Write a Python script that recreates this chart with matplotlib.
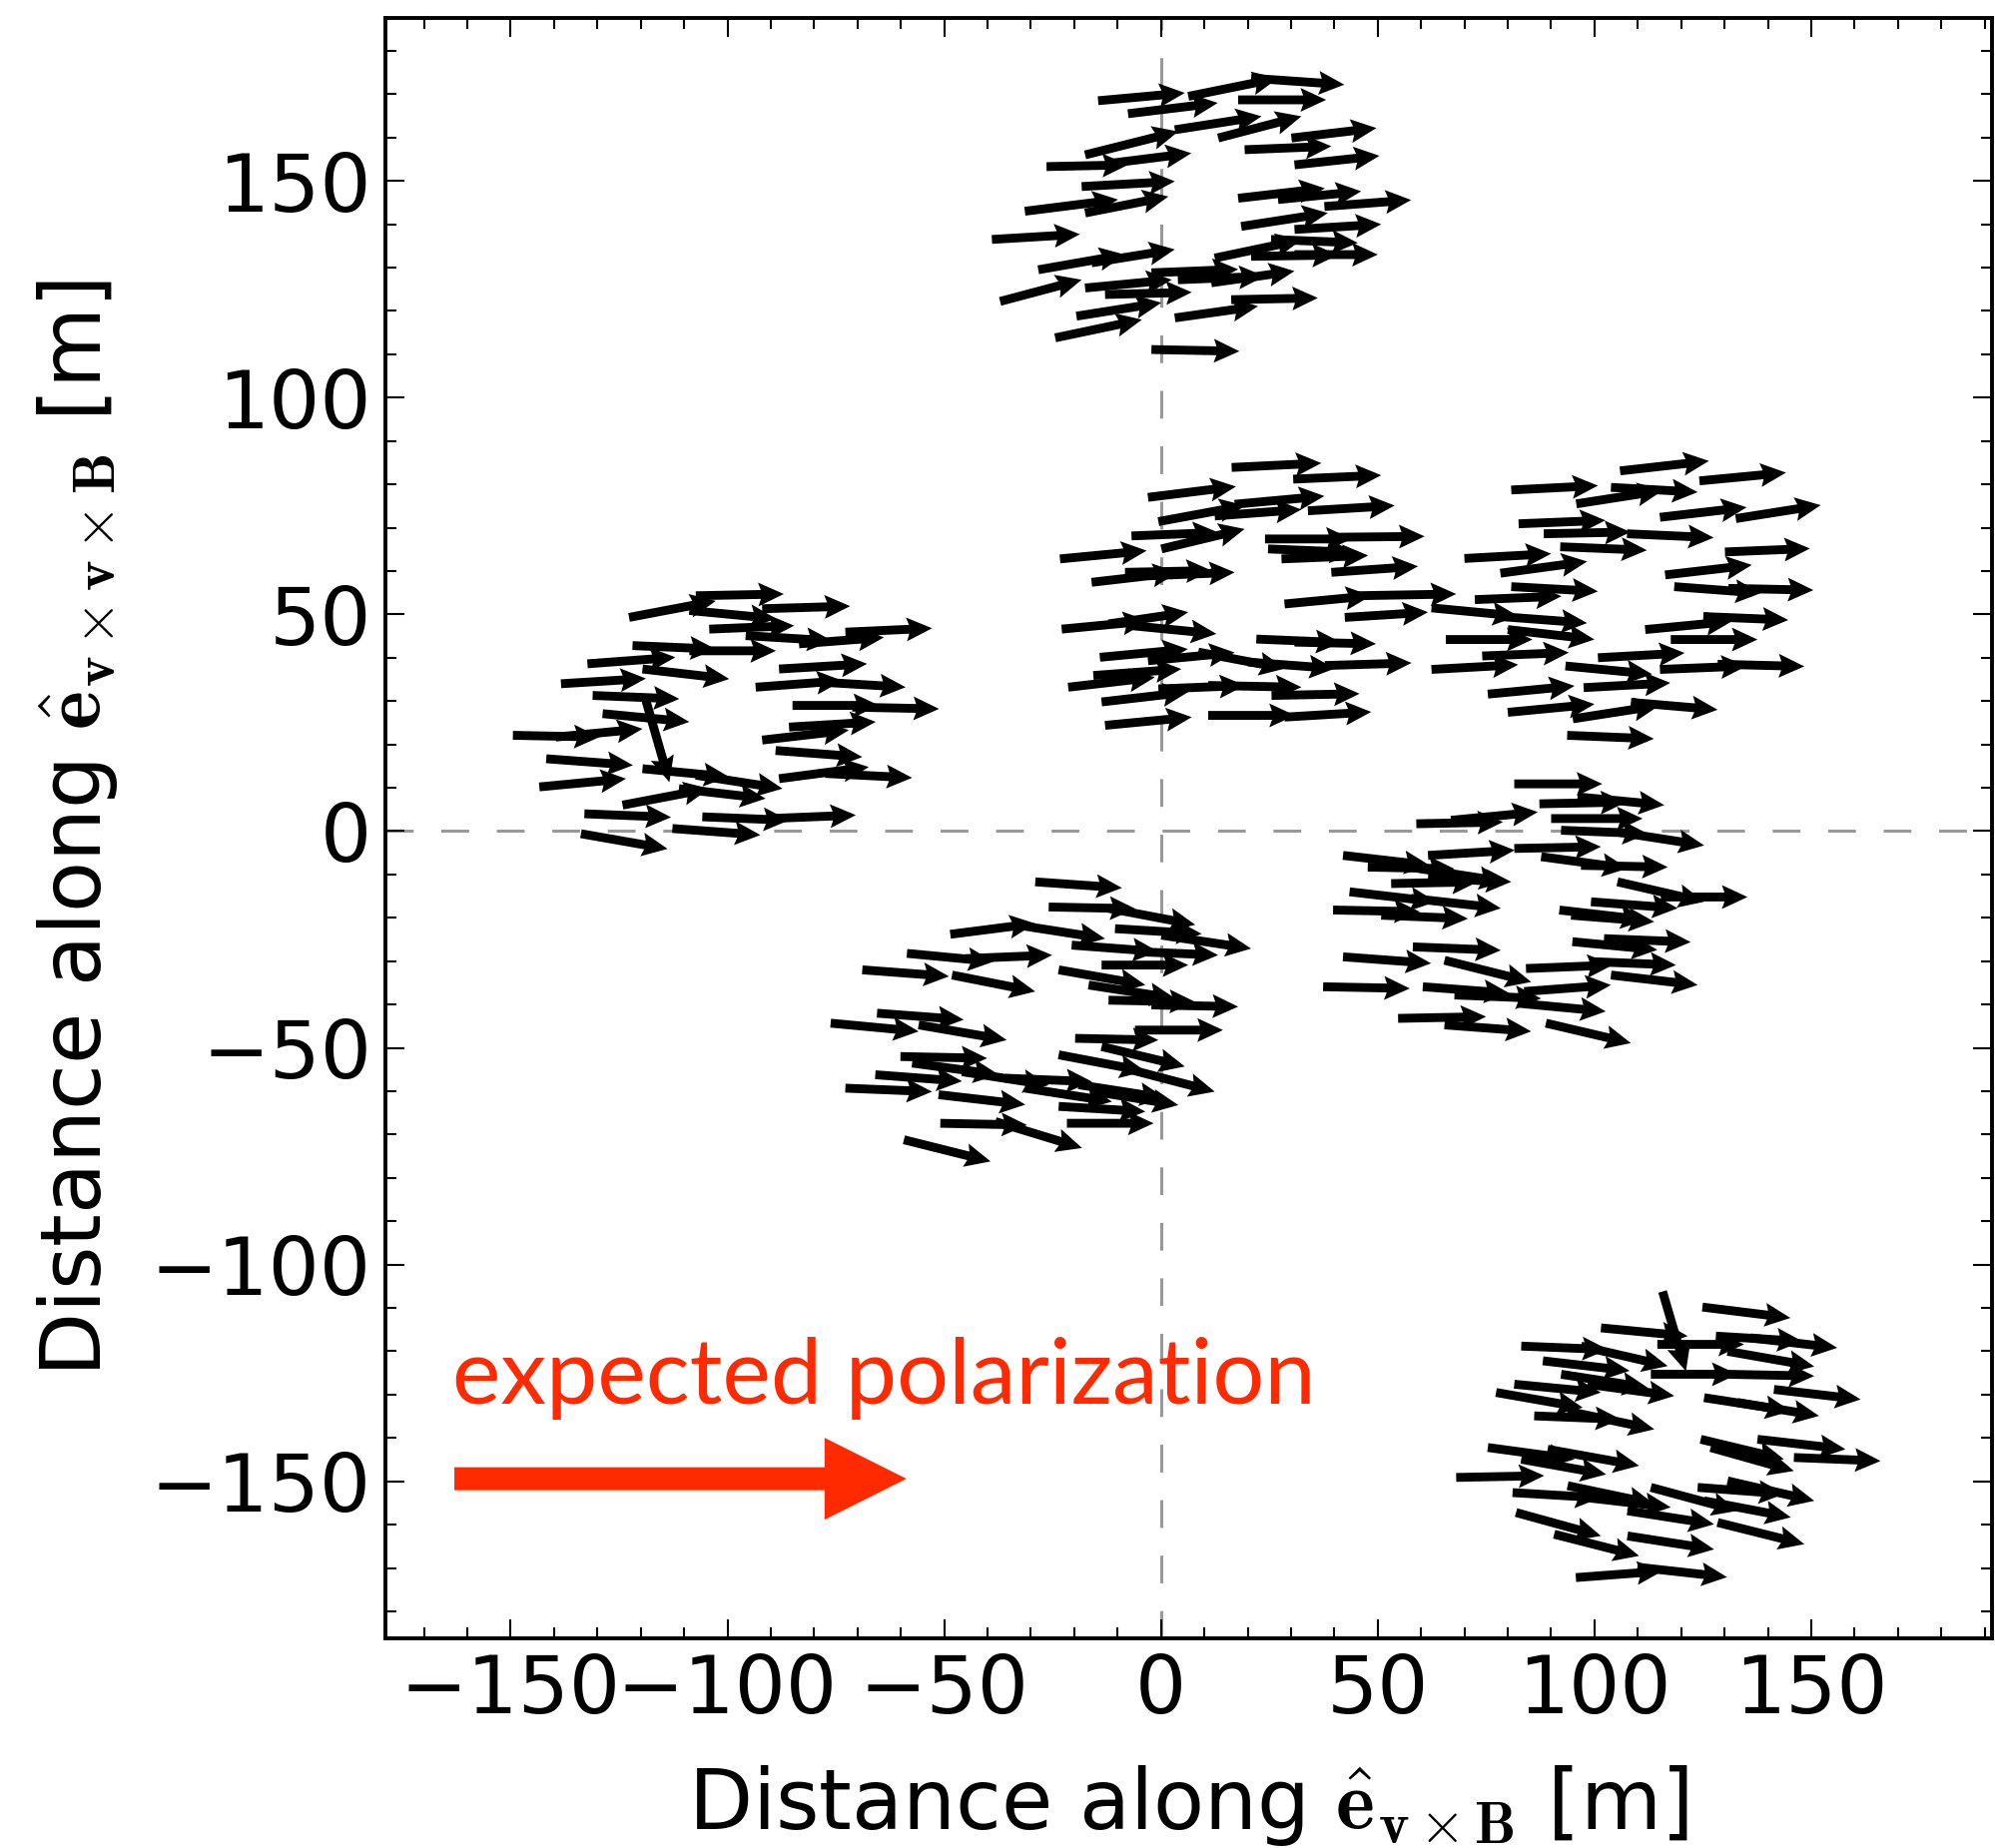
import numpy as np
import matplotlib.pyplot as plt

plt.rcParams['mathtext.fontset'] = 'cm'
plt.rcParams['lines.scale_dashes'] = False

# arrows: (x, y, u, v) in metres, tail at (x, y)
ring_top = [
    (-14.5, 168.5, 20.0, 1.8), (-7.6, 165.5, 20.7, 2.5), (6.3, 169.5, 20.7, 4.2),
    (20.8, 173.7, 21.5, -1.5), (17.8, 168.7, 20.3, 0.0), (13.2, 159.9, 19.2, 5.0),
    (3.2, 161.8, 20.0, 3.1), (-17.5, 156.0, 21.5, 5.4), (-26.4, 153.3, 18.8, 0.4),
    (30.1, 159.9, 19.6, 2.3), (30.8, 153.7, 19.6, 2.1), (19.3, 157.2, 20.0, 0.8),
    (-11.4, 154.1, 18.4, 2.3), (-18.3, 148.7, 21.5, 1.2), (-31.4, 143.0, 21.5, 2.7),
    (-17.5, 142.6, 19.2, 3.8), (-39.0, 136.5, 20.3, 1.2), (17.8, 146.0, 20.0, 2.3),
    (27.0, 145.7, 19.2, 1.9), (37.7, 144.1, 20.0, 1.5), (18.5, 139.5, 20.0, 3.1),
    (30.8, 138.8, 20.0, 1.2), (-28.3, 129.5, 20.0, 3.5), (-16.0, 131.1, 19.2, 3.1),
    (12.4, 132.2, 20.0, 4.2), (25.4, 136.5, 20.0, -0.8), (20.8, 132.6, 20.0, 0.3),
    (30.8, 133.0, 19.2, 0.0), (-37.1, 122.2, 18.8, 5.0), (-17.5, 125.3, 20.0, 1.9),
    (-12.9, 123.8, 20.0, 0.5), (-2.2, 128.8, 20.0, 0.8), (3.9, 127.2, 20.0, 0.8),
    (11.6, 126.5, 19.2, 2.7), (-19.5, 118.8, 19.6, 3.1), (3.2, 118.4, 19.2, 2.7),
    (16.2, 122.6, 20.0, 0.4), (-24.4, 113.8, 20.0, 4.2), (-2.2, 111.1, 20.3, -0.4),
]

ring_mid = [
    (16.3, 83.9, 20.7, 1.0), (30.5, 81.2, 20.3, 0.9), (-3.0, 77.0, 20.3, 2.5),
    (17.0, 75.4, 20.7, 1.9), (33.9, 73.9, 20.0, 1.2), (-0.6, 71.4, 20.0, 3.7),
    (12.4, 72.7, 20.0, 1.5), (-6.8, 68.1, 20.0, 0.8), (0.1, 65.1, 19.2, 4.6),
    (24.0, 67.4, 20.0, 0.0), (40.8, 67.8, 20.0, 0.2), (27.8, 62.8, 20.0, 0.8),
    (24.7, 65.1, 20.0, -0.8), (39.3, 59.7, 20.0, 1.4), (-23.3, 62.8, 20.0, 1.9),
    (-16.0, 57.4, 20.0, 2.3), (-3.0, 58.9, 20.0, 0.8), (-8.3, 59.7, 20.0, 0.4),
    (28.5, 52.4, 20.0, 1.9), (45.1, 54.3, 23.0, 0.4), (42.4, 49.3, 19.2, 1.2),
    (-22.9, 46.6, 20.0, 1.9), (-12.1, 47.8, 18.4, 2.7), (-6.8, 47.4, 19.6, -1.9),
    (22.0, 44.3, 19.6, -0.8), (30.8, 43.6, 18.8, -0.4), (-14.1, 40.1, 20.3, 1.9),
    (-3.0, 39.3, 20.0, 1.9), (8.6, 41.3, 20.0, -3.8), (37.8, 38.2, 20.0, 0.6),
    (20.1, 39.0, 20.0, -1.5), (-15.6, 35.9, 20.3, 1.5), (-21.4, 33.2, 20.0, 2.3),
    (-13.7, 29.8, 20.0, 2.3), (-0.6, 32.8, 20.0, 0.8), (10.9, 33.6, 21.5, -0.4),
    (25.5, 31.3, 20.3, 0.4), (-12.9, 24.4, 20.0, 1.9), (10.9, 26.7, 20.0, 0.0),
    (28.5, 26.3, 20.0, 1.2),
]

ring_right = [
    (105.9, 83.1, 20.5, 2.3), (124.2, 80.8, 20.0, 1.9), (80.8, 78.7, 20.0, 1.0),
    (103.8, 79.3, 20.0, -1.1), (95.8, 75.5, 20.0, 3.1), (82.5, 70.9, 20.0, 0.8),
    (115.1, 72.4, 20.0, 2.3), (132.6, 72.1, 19.6, 3.1), (107.5, 68.6, 20.0, -0.9),
    (88.3, 68.6, 20.0, 0.4), (92.1, 65.6, 20.0, -0.8), (130.1, 64.4, 19.6, 0.8),
    (70.0, 62.9, 20.0, 1.1), (78.3, 59.5, 20.0, 2.7), (116.3, 59.1, 20.0, 2.3),
    (118.4, 56.4, 20.0, -1.5), (130.9, 56.0, 19.6, -0.4), (80.8, 56.4, 20.0, -1.1),
    (72.4, 53.4, 20.0, 0.8), (62.4, 51.5, 20.0, -1.9), (78.3, 49.5, 20.0, -1.5),
    (65.7, 44.2, 20.0, 0.0), (80.0, 46.5, 20.0, -2.3), (111.7, 46.5, 20.0, 1.9),
    (125.1, 49.5, 19.6, -0.8), (117.6, 44.2, 20.0, 0.0), (74.1, 40.4, 20.0, 0.8),
    (62.4, 37.3, 20.0, 1.1), (100.8, 40.0, 20.0, 1.1), (93.3, 38.1, 20.0, -1.9),
    (128.4, 38.5, 20.0, -0.5), (115.1, 37.3, 20.0, 0.8), (75.4, 31.6, 20.0, 1.9),
    (97.5, 33.1, 20.0, 1.1), (80.0, 27.4, 20.0, 1.9), (95.0, 25.9, 20.0, 3.1),
    (108.4, 29.7, 20.0, -1.7), (93.7, 22.1, 20.0, -0.8),
]

ring_left = [
    (-122.7, 49.3, 20.0, 3.8), (-107.3, 54.3, 20.3, 0.4), (-92.0, 51.3, 20.3, 0.6),
    (-108.8, 50.9, 20.0, -1.9), (-104.2, 46.6, 19.6, 0.8), (-72.8, 45.9, 20.0, 0.9),
    (-95.8, 45.1, 20.0, -1.2), (-83.5, 43.2, 19.6, 1.5), (-121.9, 42.8, 19.2, -0.8),
    (-108.8, 41.6, 20.0, 0.0), (-132.3, 38.6, 20.3, 1.5), (-119.6, 37.4, 20.0, -2.3),
    (-88.1, 37.4, 20.3, 1.2), (-138.4, 34.0, 19.6, 1.2), (-93.5, 33.2, 20.0, 1.5),
    (-78.9, 34.4, 20.0, -1.2), (-131.1, 31.3, 20.0, -0.8), (-128.8, 27.1, 20.0, -1.9),
    (-85.0, 29.0, 20.0, 0.0), (-71.2, 28.6, 20.0, -0.4), (-85.8, 24.0, 20.0, 1.2),
    (-92.0, 21.0, 20.0, 2.3), (-149.5, 22.1, 20.0, -0.4), (-139.6, 21.7, 20.0, 1.9),
    (-118.8, 30.1, 5.4, -18.8), (-88.9, 18.6, 20.0, -1.5), (-141.8, 16.7, 20.0, -1.5),
    (-143.4, 10.2, 20.0, 1.9), (-119.6, 14.4, 20.0, -1.9), (-107.3, 12.9, 20.0, -3.1),
    (-77.4, 13.3, 20.0, -1.0), (-88.1, 12.1, 20.7, 2.7), (-111.2, 9.8, 20.0, -2.3),
    (-124.2, 6.0, 20.0, 3.8), (-133.0, 4.0, 20.0, -0.8), (-105.8, 3.3, 20.0, -0.8),
    (-90.4, 2.9, 20.0, 0.8), (-112.7, 0.6, 20.3, -1.5), (-133.8, -0.6, 20.0, -3.5),
]

ring_low = [
    (-29.0, -11.7, 20.0, -1.4), (-25.9, -17.5, 20.0, -0.4), (-12.1, -17.8, 20.0, -3.8),
    (-48.6, -23.8, 19.6, 2.5), (-32.9, -21.7, 20.0, -3.1), (-10.6, -22.5, 20.0, -1.2),
    (0.1, -24.0, 20.7, -3.1), (-20.6, -26.3, 20.0, -1.5), (-6.0, -27.8, 19.2, -0.8),
    (-58.6, -28.2, 20.0, -1.9), (-45.1, -29.4, 20.0, 0.8), (-13.7, -30.9, 20.0, 0.0),
    (-68.9, -32.0, 20.0, -1.5), (-48.2, -33.2, 19.2, -3.8), (-23.6, -32.0, 20.0, -3.5),
    (-16.7, -35.5, 20.0, -3.1), (-12.1, -39.0, 20.0, -0.4), (-2.2, -40.1, 20.0, -0.4),
    (-76.2, -44.3, 20.3, -1.9), (-65.5, -42.0, 20.0, -1.5), (-55.9, -44.7, 20.3, -3.5),
    (-19.8, -47.8, 19.2, -0.4), (-6.0, -45.9, 20.3, 0.0), (-13.7, -49.7, 19.2, -4.6),
    (-60.1, -52.0, 20.0, -0.4), (-23.6, -51.6, 20.0, -3.8), (-8.3, -54.7, 20.7, -5.4),
    (-57.4, -53.5, 20.0, -2.7), (-65.9, -56.2, 20.0, -1.5), (-72.8, -59.3, 20.0, -0.8),
    (-45.9, -55.5, 20.0, -3.1), (-35.9, -57.0, 20.0, -0.8), (-31.3, -59.3, 20.0, -3.1),
    (-19.0, -58.5, 20.0, -3.1), (-15.2, -60.1, 19.2, -3.1), (-51.3, -60.8, 20.0, -2.3),
    (-23.6, -63.5, 20.0, -1.2), (-50.9, -67.4, 20.0, -0.4), (-38.2, -67.0, 20.0, -6.1),
    (-21.7, -67.4, 20.0, 0.0), (-59.3, -71.2, 20.0, -5.0),
]

ring_low_right = [
    (81.5, 10.9, 20.3, 0.0), (87.3, 6.3, 20.0, 0.4), (96.1, 7.9, 20.0, -1.9),
    (58.9, 1.7, 20.0, 0.4), (66.9, 2.5, 20.0, 1.9), (90.0, 2.9, 21.1, 0.0),
    (92.3, 0.2, 20.0, -0.8), (105.3, -0.2, 20.0, -3.1), (42.0, -5.6, 20.0, -2.3),
    (47.7, -8.3, 20.0, -0.4), (61.6, -5.6, 20.0, 1.2), (81.5, -4.0, 20.0, 0.4),
    (87.7, -5.9, 20.0, -2.7), (96.9, -7.9, 20.0, -0.4), (59.3, -8.6, 20.0, -3.1),
    (53.1, -12.1, 20.0, 0.4), (61.6, -10.9, 19.2, -0.8), (105.3, -11.7, 20.0, -4.6),
    (115.3, -15.2, 20.0, 0.0), (43.5, -14.0, 20.0, -2.3), (57.7, -15.5, 20.7, -2.3),
    (39.7, -18.2, 20.0, -0.4), (50.8, -19.4, 20.0, -0.8), (91.9, -18.2, 20.0, -2.3),
    (99.2, -16.3, 20.0, -1.5), (94.6, -19.4, 19.2, -1.5), (58.1, -26.7, 20.3, -0.8),
    (94.9, -25.5, 19.6, -1.9), (102.2, -24.8, 20.0, -0.8), (42.0, -29.0, 20.3, -1.5),
    (65.4, -29.8, 20.0, -5.0), (84.2, -31.7, 20.0, 0.8), (99.2, -30.1, 19.6, -0.8),
    (103.8, -33.2, 20.0, -2.3), (37.4, -35.9, 20.0, -0.4), (60.4, -35.9, 20.0, -1.5),
    (67.7, -37.8, 20.0, -0.8), (83.8, -37.0, 20.0, 1.5), (82.3, -39.7, 20.3, -1.9),
    (54.7, -43.2, 20.3, 0.4), (65.4, -44.7, 20.0, -1.5), (88.8, -44.3, 19.6, -4.6),
]

ring_bottom = [
    (115.7, -106.2, 5.4, -18.4), (124.9, -109.8, 20.3, -2.5), (101.5, -114.6, 20.0, -1.9),
    (128.0, -116.5, 20.0, -1.2), (136.0, -116.9, 20.0, -2.3), (83.1, -118.8, 20.0, -0.8),
    (96.9, -118.8, 20.0, -4.6), (114.5, -118.4, 20.0, 0.0), (130.7, -120.0, 20.0, -3.5),
    (88.1, -122.2, 20.0, -2.3), (113.0, -125.3, 20.0, 0.0), (130.7, -125.3, 20.0, -0.4),
    (92.3, -125.3, 20.0, -3.1), (81.5, -127.6, 20.0, -1.9), (98.4, -127.6, 20.0, -2.7),
    (141.4, -128.8, 20.0, -2.3), (77.3, -129.5, 20.0, -3.5), (125.3, -130.7, 20.0, -3.1),
    (133.0, -131.8, 18.8, -3.1), (86.1, -134.9, 20.0, -0.8), (93.8, -133.8, 20.0, -4.2),
    (124.5, -140.3, 19.2, -4.6), (126.8, -142.2, 19.2, -5.4), (137.6, -140.3, 20.3, -2.3),
    (146.0, -144.5, 20.0, -0.8), (75.4, -142.2, 20.0, -2.7), (89.2, -142.6, 21.1, -3.8),
    (83.1, -144.9, 19.6, -3.5), (68.1, -149.1, 20.3, 0.4), (81.1, -152.6, 20.3, -1.2),
    (93.8, -151.0, 20.0, -4.2), (97.6, -153.7, 20.0, -2.3), (113.0, -151.4, 20.0, -5.4),
    (123.8, -151.4, 20.0, -1.5), (130.7, -149.9, 20.0, -4.6), (125.3, -154.5, 20.0, -3.8),
    (107.6, -156.8, 20.0, -3.1), (128.4, -159.5, 20.0, -5.0), (81.9, -157.2, 19.6, -5.4),
    (90.7, -162.2, 19.6, -5.0), (107.6, -162.6, 20.0, -3.1), (95.7, -172.2, 20.0, 1.5),
    (109.9, -169.8, 20.7, -2.3),
]

rings = [ring_top, ring_mid, ring_right, ring_left, ring_low, ring_low_right, ring_bottom]

fig = plt.figure(figsize=(19.99, 18.51), dpi=100)
ax = fig.add_axes([0.1931, 0.1135, 0.8049, 0.8768])

for ring in rings:
    x, y, u, v = np.array(ring).T
    ax.quiver(x, y, u, v, angles='xy', scale_units='xy', scale=1, pivot='tail',
              width=0.0055, headwidth=2.7, headlength=2.9, headaxislength=2.6,
              color='black', zorder=3)

# reference lines through origin
ax.axhline(0, color='#999999', lw=2.2, dashes=(20, 20), zorder=1)
ax.axvline(0, color='#999999', lw=2.2, dashes=(20, 20), zorder=1)

# expected polarization
red = '#ff2a00'
ax.text(-163.5, -132.1, 'expected polarization', color=red, fontsize=66,
        family='Lato', ha='left', va='baseline')
ax.arrow(-163, -149.4, 104.3, 0, width=5.3, head_width=18.9, head_length=18.9,
         length_includes_head=True, color=red, lw=0)

ax.set_xlim(-178.9, 191.7)
ax.set_ylim(-186.2, 187.6)
ax.set_xticks([-150, -100, -50, 0, 50, 100, 150])
ax.set_yticks([-150, -100, -50, 0, 50, 100, 150])
ax.set_xticks(np.arange(-170, 191, 10), minor=True)
ax.set_yticks(np.arange(-180, 188, 10), minor=True)
ax.tick_params(which='both', direction='in', top=True, right=True, width=1.5)
ax.tick_params(which='major', length=14, labelsize=58, pad=10)
ax.tick_params(which='minor', length=8)
for s in ax.spines.values():
    s.set_linewidth(2.8)

ax.set_xlabel(r'Distance along $\hat{\mathbf{e}}_{\mathbf{v}\times\mathbf{B}}$ [m]',
              fontsize=60, labelpad=24)
ax.set_ylabel(r'Distance along $\hat{\mathbf{e}}_{\mathbf{v}\times\mathbf{v}\times\mathbf{B}}$ [m]',
              fontsize=60, labelpad=22)

fig.savefig('out.png', dpi=100)
